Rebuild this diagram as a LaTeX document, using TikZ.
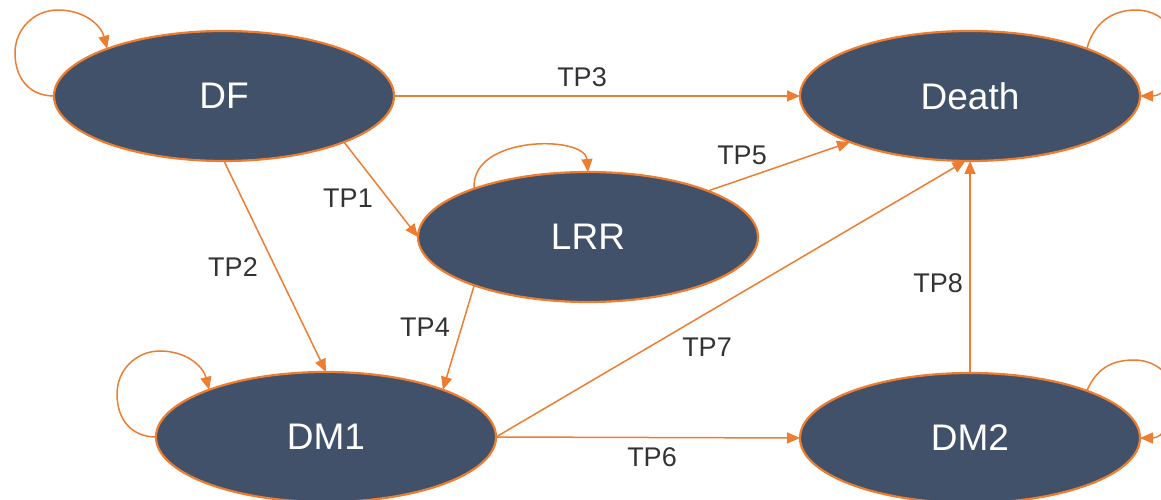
\documentclass[tikz,border=0pt]{standalone}
\usepackage{fontspec}
\setmainfont{Liberation Sans}
\usetikzlibrary{arrows.meta,shapes.geometric}
\definecolor{nodefill}{RGB}{65,81,106}
\definecolor{edgeor}{RGB}{237,125,49}
\definecolor{lblgray}{RGB}{51,51,51}
\tikzset{
  state/.style={ellipse, draw=edgeor, line width=2.2pt, fill=nodefill,
    minimum width=340pt, minimum height=130pt, inner sep=0pt, outer sep=0pt,
    text=white, font=\fontsize{37}{40}\selectfont},
  conn/.style={draw=edgeor, line width=1.5pt,
    -{Triangle[length=13pt,width=11pt]}},
  lbl/.style={text=lblgray, font=\fontsize{27}{30}\selectfont, inner sep=0pt}
}
\begin{document}
\begin{tikzpicture}[x=1pt,y=1pt]
\useasboundingbox (0,0) rectangle (1161,500);
\begin{scope}
\clip (0,0) rectangle (1161,500);
\node[state] (DF) at (224,404) {DF};
\node[state] (Death) at (970,404) {Death};
\node[state] (LRR) at (588,263) {LRR};
\node[state] (DM1) at (326,63) {DM1};
\node[state] (DM2) at (970,62) {DM2};

% transitions
\draw[conn] (DF.east) -- (Death.west);
\draw[conn] (DF.-21) -- (LRR.west);
\draw[conn] (DF.south) -- (DM1.north);
\draw[conn] (LRR.-157) -- (DM1.22);
\draw[conn] (LRR.21) -- (Death.-159);
\draw[conn] (DM1.east) -- (Death.-94);
\draw[conn] (DM1.east) -- (DM2.west);
\draw[conn] (DM2.north) -- (Death.south);

% self loops
\draw[conn] (DF.west) .. controls (30,404) and (15,421) .. (15,447)
  .. controls (15,471) and (34,490) .. (58,490)
  .. controls (84,490) and (101,475) .. (DF.158);
\draw[conn] (DM1.west) .. controls (132,63) and (117,80) .. (117,106)
  .. controls (117,130) and (136,149) .. (160,149)
  .. controls (186,149) and (203,134) .. (DM1.158);
\draw[conn] (LRR.157) .. controls (470,365) and (585,365) .. (LRR.north);
\draw[conn] (Death.22) .. controls (1093,475) and (1110,490) .. (1136,490)
  .. controls (1160,490) and (1179,471) .. (1179,447)
  .. controls (1179,421) and (1164,404) .. (Death.east);
\draw[conn] (DM2.22) .. controls (1096,130) and (1110,140) .. (1134,140)
  .. controls (1158,140) and (1175,122) .. (1175,102)
  .. controls (1175,78) and (1162,62) .. (DM2.east);

% labels
\node[lbl] (tp3) at (582,423) {TP3};
\node[lbl] (tp5) at (742,345) {TP5};
\node[lbl] (tp7) at (707,153) {TP7};
\node[lbl] (tp8) at (938,217) {TP8};
\node[lbl] (tp6) at (652,43) {TP6};
\node[lbl] (tp1) at (348,302) {TP1};
\node[lbl] (tp2) at (233,233) {TP2};
\node[lbl] (tp4) at (425,173) {TP4};
\end{scope}
\end{tikzpicture}
\end{document}
